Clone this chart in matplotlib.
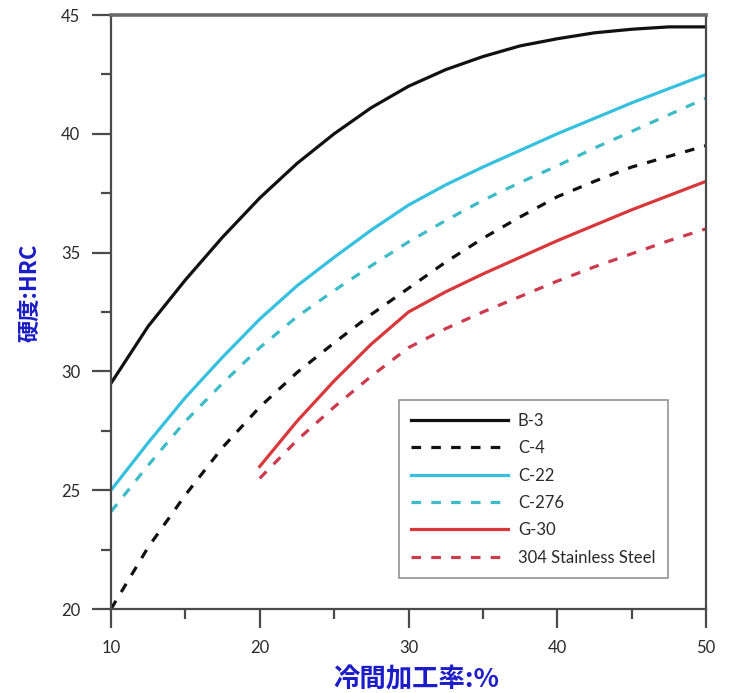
import matplotlib
matplotlib.use("Agg")
import matplotlib.pyplot as plt
from matplotlib.ticker import MultipleLocator

# ---- data ----
x_full = [10, 12.5, 15, 17.5, 20, 22.5, 25, 27.5, 30, 32.5, 35, 37.5, 40, 42.5, 45, 47.5, 50]
x_half = [20, 22.5, 25, 27.5, 30, 32.5, 35, 37.5, 40, 42.5, 45, 47.5, 50]

b3_y = [29.5, 31.9, 33.85, 35.65, 37.3, 38.75, 40.0, 41.1, 42.0, 42.7, 43.25, 43.7, 44.0, 44.25, 44.4, 44.5, 44.5]
c4_y = [20.0, 22.6, 24.8, 26.8, 28.5, 29.95, 31.2, 32.4, 33.5, 34.6, 35.6, 36.5, 37.35, 38.0, 38.6, 39.05, 39.5]
c22_y = [25.0, 27.0, 28.9, 30.6, 32.2, 33.6, 34.8, 35.95, 37.0, 37.85, 38.6, 39.3, 40.0, 40.65, 41.3, 41.9, 42.5]
c276_y = [24.1, 26.05, 27.9, 29.5, 31.0, 32.3, 33.4, 34.45, 35.45, 36.35, 37.2, 37.95, 38.65, 39.4, 40.1, 40.8, 41.5]
g30_y = [26.0, 27.9, 29.6, 31.15, 32.5, 33.35, 34.1, 34.8, 35.5, 36.15, 36.8, 37.4, 38.0]
ss304_y = [25.5, 27.1, 28.5, 29.8, 31.0, 31.8, 32.5, 33.15, 33.8, 34.4, 34.95, 35.5, 36.0]

series_labels = ["B-3", "C-4", "C-22", "C-276", "G-30", "304 Stainless Steel"]
x_label = "冷間加工率:%"
y_label = "硬度:HRC"

# ---- figure ----
plt.rcParams['font.family'] = ['Lato', 'DejaVu Sans']
fig = plt.figure(figsize=(7.29, 6.93), dpi=100)
ax = fig.add_axes([111/729, 1 - 609/693, (706-111)/729, (609-15)/693])

lw = 2.3
dash = (3.0, 3.2)
c_black = "#111111"
c_cyan = "#35c0e0"
c_cyan_d = "#3dbcc8"
c_red = "#d8383a"
c_red_d = "#cc3a4e"

ax.plot(x_full, b3_y, color=c_black, lw=lw, label=series_labels[0])
ax.plot(x_full, c4_y, color=c_black, lw=lw, dashes=dash, label=series_labels[1])
ax.plot(x_full, c22_y, color=c_cyan, lw=lw, label=series_labels[2])
ax.plot(x_full, c276_y, color=c_cyan_d, lw=lw, dashes=dash, label=series_labels[3])
ax.plot(x_half, g30_y, color=c_red, lw=lw, label=series_labels[4])
ax.plot(x_half, ss304_y, color=c_red_d, lw=lw, dashes=dash, label=series_labels[5])

ax.set_xlim(10, 50)
ax.set_ylim(20, 45)
ax.xaxis.set_major_locator(MultipleLocator(10))
ax.xaxis.set_minor_locator(MultipleLocator(5))
ax.yaxis.set_major_locator(MultipleLocator(5))
ax.yaxis.set_minor_locator(MultipleLocator(2.5))

spine_c = "#4a4a4a"
for s in ax.spines.values():
    s.set_color(spine_c)
    s.set_linewidth(1.6)
ax.spines['top'].set_linewidth(2.6)
ax.spines['top'].set_color("#6a6a6a")

ax.tick_params(which='major', direction='out', length=14, width=1.6, color=spine_c,
               labelsize=12, labelcolor="#2a2a2a", pad=8)
ax.tick_params(which='minor', direction='out', length=7, width=1.6, color=spine_c)
ax.tick_params(top=False, right=False, which='both')

leg = ax.legend(loc='lower right', bbox_to_anchor=(0.936, 0.052), frameon=True,
                fancybox=False, edgecolor="#777777", fontsize=12,
                handlelength=5.8, handletextpad=0.6, labelspacing=0.68,
                borderpad=0.75, borderaxespad=0)
leg.get_frame().set_linewidth(1.2)
for t in leg.get_texts():
    t.set_color("#2a2a2a")

cjk = ['Noto Sans CJK JP', 'DejaVu Sans']
fig.text(30/729, 1 - 293/693, y_label, rotation=90, ha='center', va='center',
         color="#1c1cc8", fontsize=16, fontweight='bold', family=cjk)
fig.text(416/729, 1 - 680/693, x_label, ha='center', va='center',
         color="#1c1cc8", fontsize=19, fontweight='bold', family=cjk)

fig.savefig("out.png", dpi=100, facecolor='white')
